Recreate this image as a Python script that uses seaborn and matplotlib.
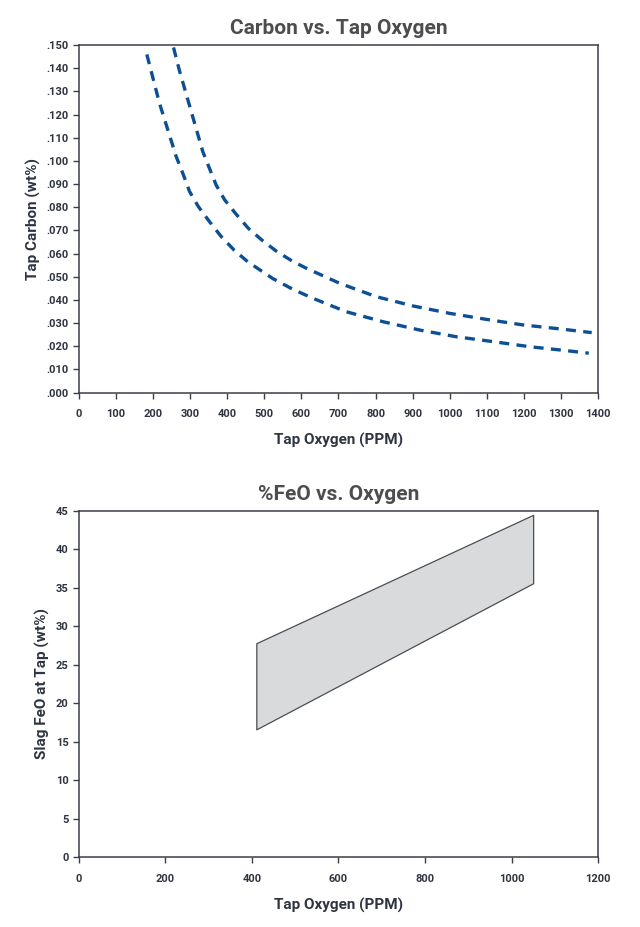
import matplotlib
matplotlib.use("Agg")
import matplotlib.pyplot as plt
from matplotlib.ticker import FuncFormatter, MultipleLocator
import seaborn as sns
import pandas as pd

# ---- data: Carbon vs. Tap Oxygen ----
low_oxygen = [183, 217, 262, 280, 298, 322, 352, 384, 418, 455, 523, 577, 631, 721, 820, 919, 1018, 1117, 1216, 1315, 1375]
low_carbon = [.146, .125, .102, .0947, .0869, .0803, .0738, .0673, .0616, .0565, .0492, .0446, .0407, .0349, .0306, .0270, .0241, .0220, .0198, .0181, .0170]
high_oxygen = [255, 271, 307, 334, 352, 370, 393, 424, 457, 493, 532, 575, 613, 703, 802, 901, 1000, 1099, 1198, 1297, 1383]
high_carbon = [.149, .139, .119, .104, .0968, .0896, .0832, .0770, .0709, .0659, .0611, .0568, .0537, .0472, .0414, .0374, .0342, .0316, .0292, .0275, .0259]

# ---- data: %FeO vs. Oxygen ----
feo_oxygen = [410, 1050]
feo_low = [16.6, 35.6]
feo_high = [27.8, 44.5]

sns.set_style("white")
plt.rcParams['font.family'] = ['Roboto', 'DejaVu Sans']

TEXT = "#2e3440"
TITLE = "#4d4d4f"
SPINE = "#3b4048"
BLUE = "#0d4f94"

fig = plt.figure(figsize=(6.4, 9.27), dpi=100)
ax1 = fig.add_axes([0.1234, 0.5765, 0.8110, 0.3748])
ax2 = fig.add_axes([0.1234, 0.0755, 0.8110, 0.3733])

df_low = pd.DataFrame({"x": low_oxygen, "y": low_carbon})
df_high = pd.DataFrame({"x": high_oxygen, "y": high_carbon})
for d in (df_low, df_high):
    sns.lineplot(data=d, x="x", y="y", ax=ax1, color=BLUE, lw=2.4, sort=False)
for ln in ax1.lines:
    ln.set_dashes([3.0, 2.2])

ax1.set_xlim(0, 1400)
ax1.set_ylim(0, 0.150)
ax1.xaxis.set_major_locator(MultipleLocator(100))
ax1.yaxis.set_major_locator(MultipleLocator(0.010))
ax1.yaxis.set_major_formatter(FuncFormatter(lambda v, p: f"{v:.3f}".lstrip("0") if v >= 0 else ""))

ax2.fill_between(feo_oxygen, feo_low, feo_high, facecolor="#d9dadc", edgecolor="#4a4d52", linewidth=0.9)
ax2.set_xlim(0, 1200)
ax2.set_ylim(0, 45)
ax2.xaxis.set_major_locator(MultipleLocator(200))
ax2.yaxis.set_major_locator(MultipleLocator(5))

for ax, title, ylabel in ((ax1, "Carbon vs. Tap Oxygen", "Tap Carbon (wt%)"),
                          (ax2, "%FeO vs. Oxygen", "Slag FeO at Tap (wt%)")):
    for s in ax.spines.values():
        s.set_visible(True)
        s.set_color(SPINE)
        s.set_linewidth(1.1)
    ax.tick_params(axis="both", which="major", direction="out", length=4, width=1,
                   color=SPINE, labelsize=8, labelcolor=TEXT, bottom=True, left=True,
                   top=False, right=False)
    ax.tick_params(axis="x", pad=8)
    for lab in ax.get_xticklabels() + ax.get_yticklabels():
        lab.set_fontweight("bold")
    ax.set_title(title, fontsize=15, fontweight="bold", color=TITLE, pad=8)
    ax.set_xlabel("Tap Oxygen (PPM)", fontsize=11, fontweight="bold", color=TEXT, labelpad=10)
    ax.set_ylabel(ylabel, fontsize=11, fontweight="bold", color=TEXT, labelpad=4)

fig.savefig("out.png", dpi=100, facecolor="white")
